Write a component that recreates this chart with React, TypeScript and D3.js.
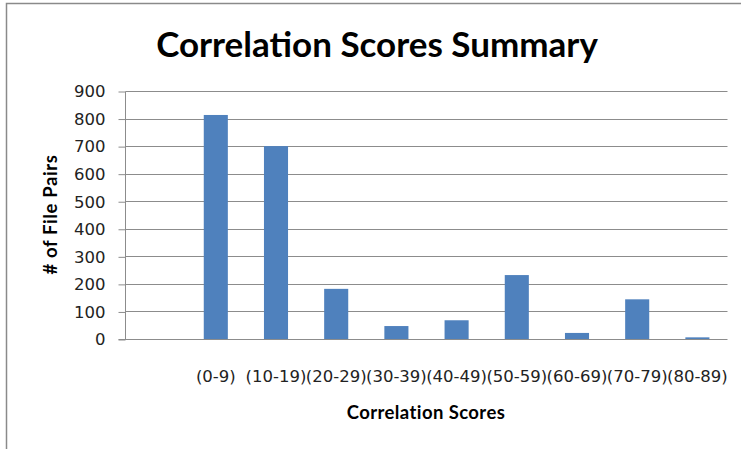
import React, { useRef, useEffect } from "react";
import * as d3 from "d3";

// categories on the x axis (first slot is empty in the original chart)
const categories = ["", "(0-9)", "(10-19)", "(20-29)", "(30-39)", "(40-49)", "(50-59)", "(60-69)", "(70-79)", "(80-89)"];
// number of file pairs per score range
const filePairs = [null, 813, 700, 182, 47, 68, 232, 22, 144, 6];
const yTicks = [0, 100, 200, 300, 400, 500, 600, 700, 800, 900];

const W = 741;
const H = 449;
const TITLE_FONT = "Lato, 'Open Sans', sans-serif";
const TICK_FONT = "'DejaVu Sans', sans-serif";

const App = () => {
  const svgRef = useRef<SVGSVGElement>(null);

  useEffect(() => {
    const svg = d3.select(svgRef.current);
    svg.selectAll("*").remove();

    const left = 125.5;
    const right = 727.5;
    const top = 91;
    const bottom = 339;

    const x = d3.scaleBand().domain(categories.map((c, i) => String(i))).range([left, right]).paddingInner(0.6).paddingOuter(0.3);
    const y = d3.scaleLinear().domain([0, 900]).range([bottom, top]);

    // outer chart border (only top + left visible)
    svg.append("path").attr("d", `M6.5,${H}V3.5H${W}`).attr("fill", "none").attr("stroke", "#8a8a8a").attr("stroke-width", 1.5);

    // title
    svg.append("text")
      .attr("x", 377).attr("y", 57)
      .attr("text-anchor", "middle")
      .attr("font-family", TITLE_FONT).attr("font-weight", "bold").attr("font-size", 35)
      .attr("fill", "#000")
      .text("Correlation Scores Summary");

    // gridlines
    svg.append("g").selectAll("line").data(yTicks.filter((t) => t > 0)).join("line")
      .attr("x1", left).attr("x2", right)
      .attr("y1", (d) => Math.round(y(d)) + 0.5).attr("y2", (d) => Math.round(y(d)) + 0.5)
      .attr("stroke", "#8c8c8c").attr("stroke-width", 1);

    // y axis
    const yAxis = d3.axisLeft(y).tickValues(yTicks).tickSize(7).tickPadding(13).tickFormat(d3.format("d"));
    const gy = svg.append("g").attr("transform", `translate(${left},0.5)`).call(yAxis);
    gy.select(".domain").attr("stroke", "#8c8c8c").attr("d", `M0,${top}V${bottom}`);
    gy.selectAll(".tick line").attr("stroke", "#8c8c8c");
    gy.selectAll(".tick text").attr("font-family", TICK_FONT).attr("font-size", 16.5).attr("fill", "#222");

    // bars
    svg.append("g").selectAll("rect")
      .data(filePairs.map((v, i) => ({ k: String(i), v })).filter((d) => d.v != null))
      .join("rect")
      .attr("x", (d) => x(d.k)!)
      .attr("width", x.bandwidth())
      .attr("y", (d) => y(d.v as number))
      .attr("height", (d) => bottom - y(d.v as number))
      .attr("fill", "#4f81bd");

    // x axis
    svg.append("line")
      .attr("x1", left - 7).attr("x2", right)
      .attr("y1", bottom + 0.5).attr("y2", bottom + 0.5)
      .attr("stroke", "#8c8c8c");

    svg.append("g").selectAll("text").data(categories.map((c, i) => ({ c, k: String(i) }))).join("text")
      .attr("x", (d) => x(d.k)! + x.bandwidth() / 2)
      .attr("y", 382)
      .attr("text-anchor", "middle")
      .attr("font-family", TICK_FONT).attr("font-size", 16.5).attr("fill", "#222")
      .text((d) => d.c);

    // axis titles
    svg.append("text")
      .attr("x", 426).attr("y", 419)
      .attr("text-anchor", "middle")
      .attr("font-family", TITLE_FONT).attr("font-weight", "bold").attr("font-size", 18.5)
      .attr("letter-spacing", 0.4)
      .text("Correlation Scores");

    svg.append("text")
      .attr("transform", "translate(57,214.5) rotate(-90)")
      .attr("text-anchor", "middle")
      .attr("font-family", TITLE_FONT).attr("font-weight", "bold").attr("font-size", 18.5)
      .attr("letter-spacing", 0.6)
      .text("# of File Pairs");
  }, []);

  return (
    <svg ref={svgRef} width={W} height={H} style={{ position: "absolute", left: 0, top: 0, background: "#fff" }} />
  );
};

export default App;
